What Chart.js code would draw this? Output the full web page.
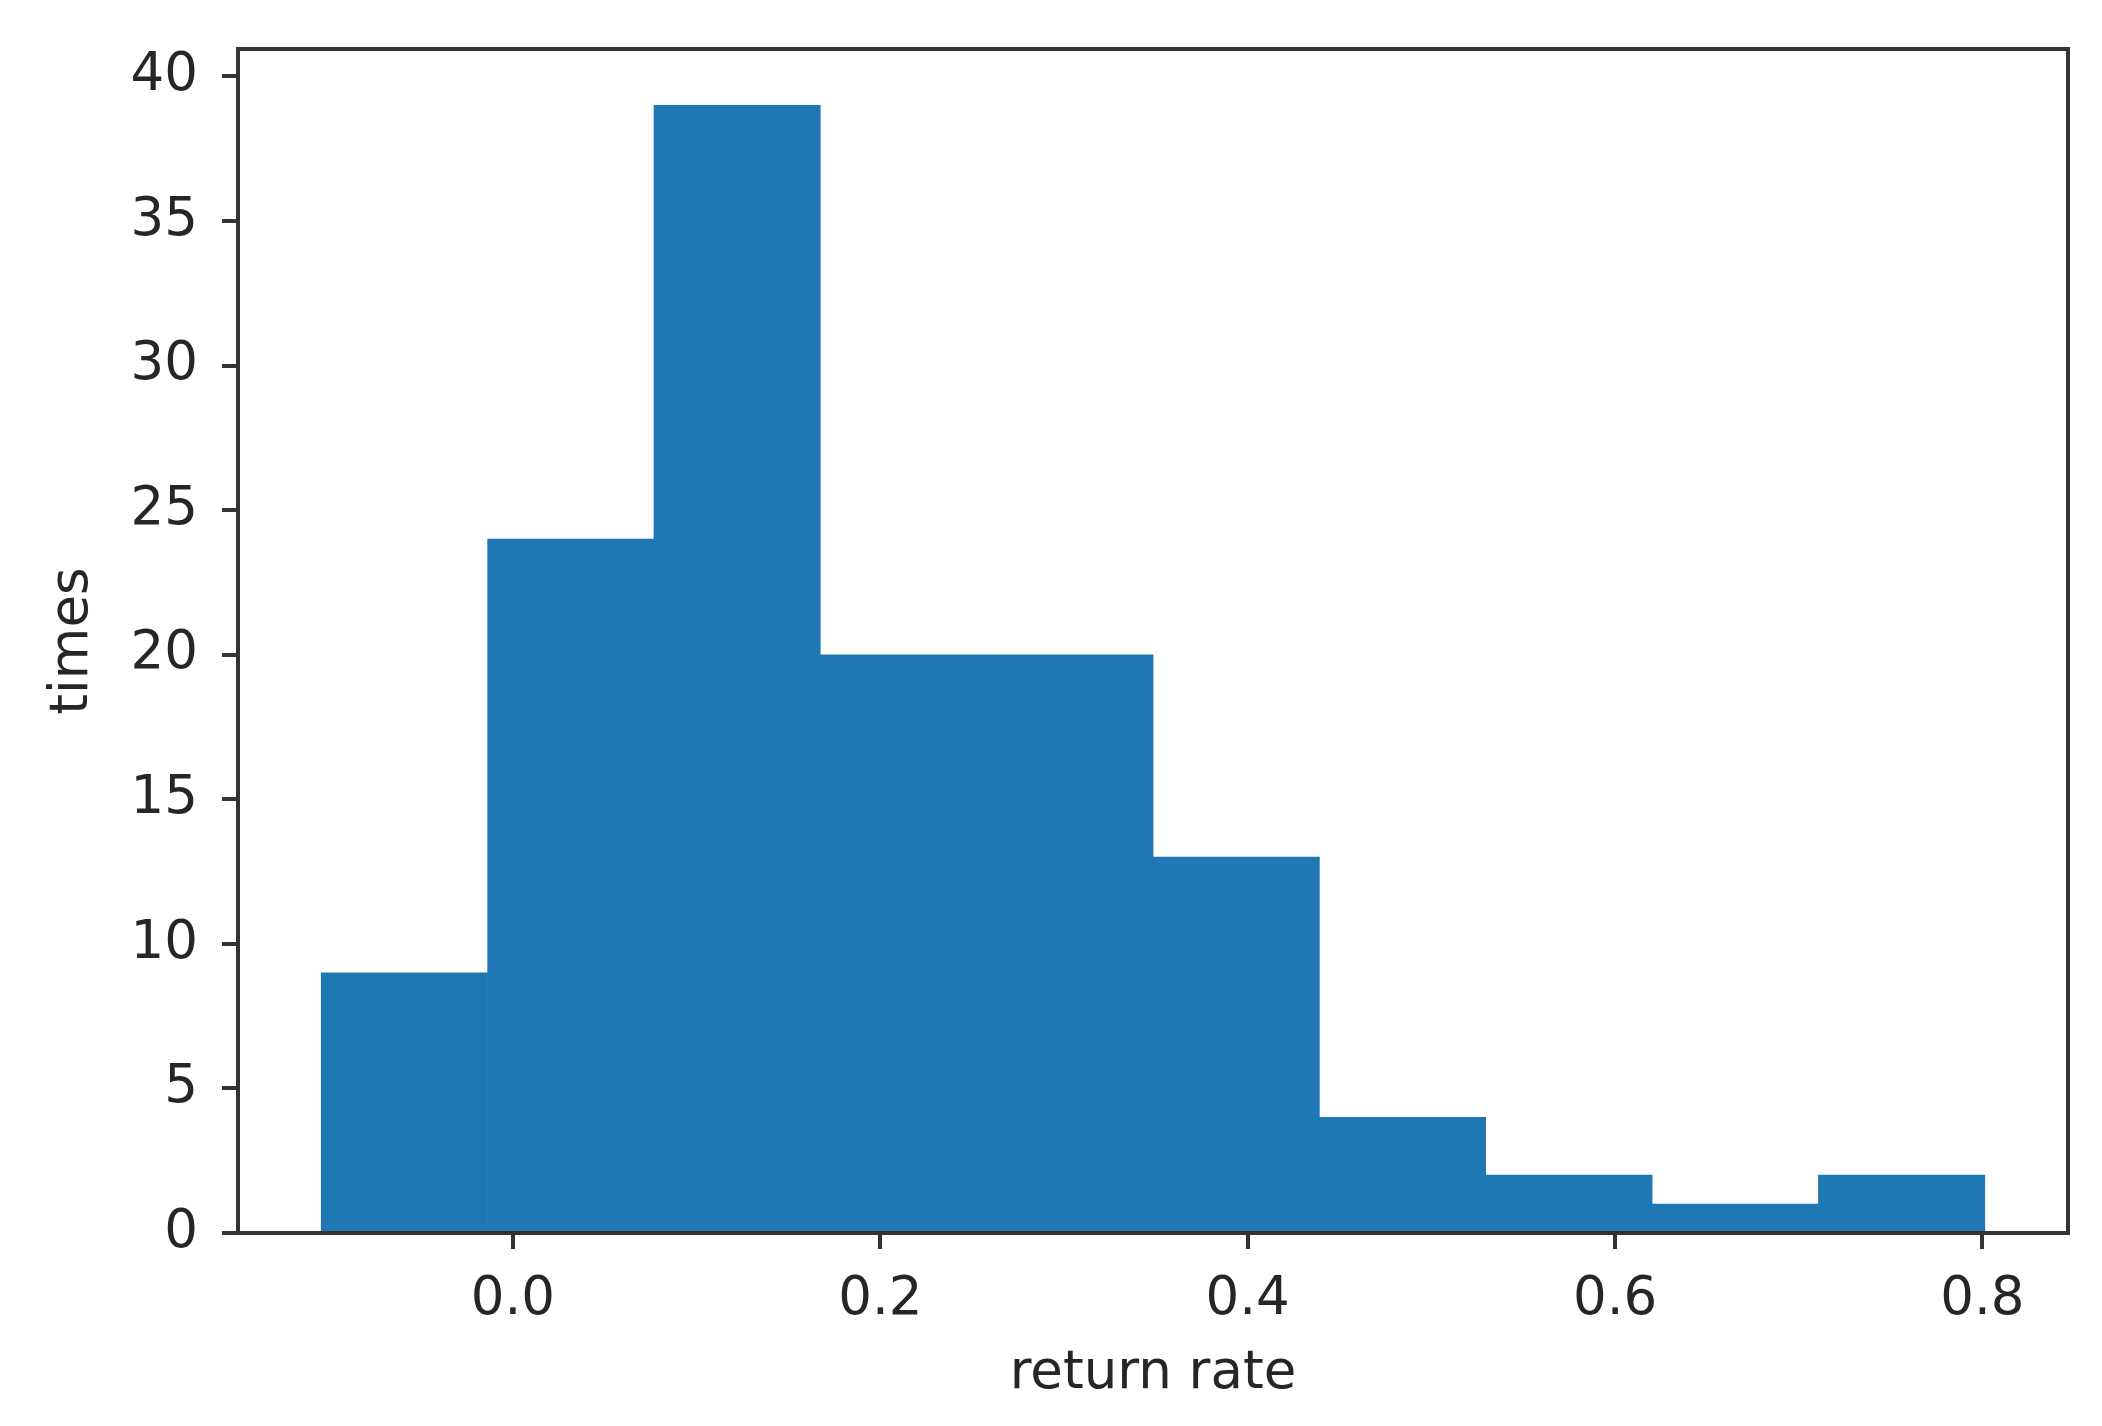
<!DOCTYPE html>
<html>
<head>
<meta charset="utf-8">
<script src="https://cdn.jsdelivr.net/npm/chart.js@4"></script>
<style>
  html, body { margin: 0; padding: 0; background: #ffffff; }
  #c { display: block; }
</style>
</head>
<body>
<canvas id="c" width="2102" height="1426"></canvas>
<script>
// ---- data ----
const binEdges = [-0.1044, -0.0138, 0.0768, 0.1673, 0.2579, 0.3485, 0.4390, 0.5296, 0.6202, 0.7107, 0.8013];
const counts   = [9, 24, 39, 20, 20, 13, 4, 2, 1, 2];
const xTickValues = [0.0, 0.2, 0.4, 0.6, 0.8];
const yTickValues = [0, 5, 10, 15, 20, 25, 30, 35, 40];
const xTitle = 'return rate';
const yTitle = 'times';

// matplotlib-style 5% margins on x, 5% headroom on y
const xRange = binEdges[binEdges.length - 1] - binEdges[0];
const xMin = binEdges[0] - 0.05 * xRange;
const xMax = binEdges[binEdges.length - 1] + 0.05 * xRange;
const yMax = Math.max(...counts) * 1.05;

const barData = counts.map((c, i) => ({ x: (binEdges[i] + binEdges[i + 1]) / 2, y: c }));

const FONT = 'DejaVu Sans';
const TEXT = '#262626';
const LINE = '#333333';

const frame = {
  id: 'frame',
  afterDatasetsDraw(chart) {
    const a = chart.chartArea, ctx = chart.ctx;
    ctx.save();
    ctx.strokeStyle = LINE;
    ctx.lineWidth = 4;
    ctx.strokeRect(a.left, a.top, a.right - a.left, a.bottom - a.top);
    ctx.restore();
  }
};

function noPad(s) {
  s.paddingTop = 0; s.paddingBottom = 0; s.paddingLeft = 0; s.paddingRight = 0;
}

new Chart(document.getElementById('c'), {
  type: 'bar',
  data: {
    datasets: [{
      data: barData,
      backgroundColor: '#1f77b4',
      borderWidth: 0,
      barPercentage: 1,
      categoryPercentage: 1
    }]
  },
  options: {
    responsive: false,
    animation: false,
    devicePixelRatio: 1,
    layout: { padding: { top: 49, right: 34, bottom: 0, left: 0 } },
    plugins: { legend: { display: false }, tooltip: { enabled: false } },
    scales: {
      x: {
        type: 'linear',
        min: xMin,
        max: xMax,
        offset: false,
        afterFit(s) { s.height = 193; noPad(s); },
        afterBuildTicks(s) { s.ticks = xTickValues.map(v => ({ value: v })); },
        ticks: {
          includeBounds: false,
          stepSize: 0.2,
          padding: 19,
          maxRotation: 0,
          autoSkip: false,
          color: TEXT,
          font: { family: FONT, size: 53 },
          callback: v => Number(v).toFixed(1)
        },
        grid: { display: true, offset: false, drawOnChartArea: false, drawTicks: true, tickLength: 16, color: LINE, lineWidth: 4 },
        border: { display: false },
        title: { display: true, text: xTitle, color: TEXT, font: { family: FONT, size: 53, lineHeight: 1.2 }, padding: { top: 0, bottom: 20 } }
      },
      y: {
        type: 'linear',
        min: 0,
        max: yMax,
        afterFit(s) { s.width = 238; noPad(s); },
        afterBuildTicks(s) { s.ticks = yTickValues.map(v => ({ value: v })); },
        ticks: {
          includeBounds: false,
          stepSize: 5,
          padding: 24,
          autoSkip: false,
          color: TEXT,
          font: { family: FONT, size: 53 },
          callback: v => String(v)
        },
        grid: { display: true, offset: false, drawOnChartArea: false, drawTicks: true, tickLength: 16, color: LINE, lineWidth: 4 },
        border: { display: false },
        title: { display: true, text: yTitle, color: TEXT, font: { family: FONT, size: 53, lineHeight: 1.2 }, padding: { top: 41, bottom: 0 } }
      }
    }
  },
  plugins: [frame]
});
</script>
</body>
</html>
